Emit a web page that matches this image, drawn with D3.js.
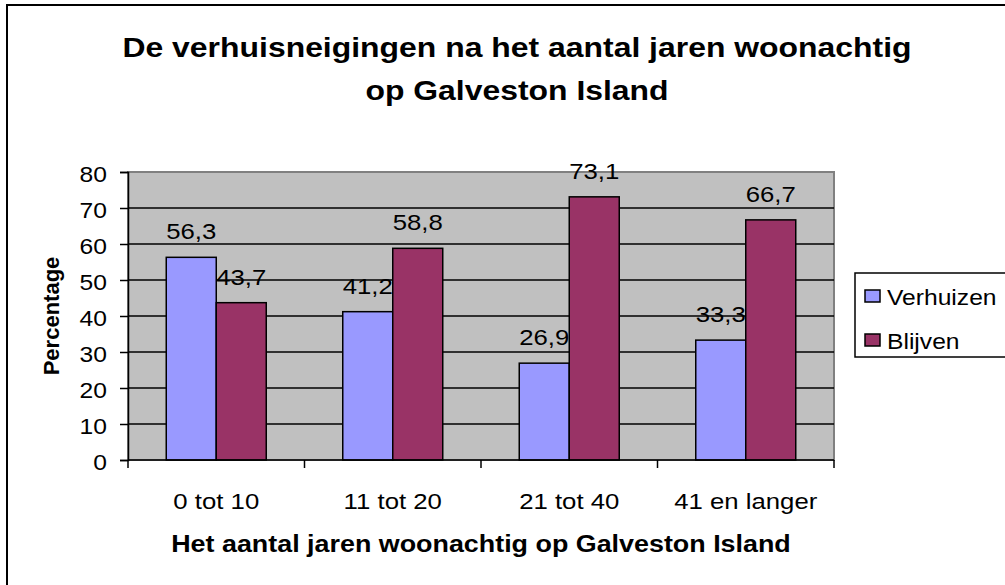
<!DOCTYPE html>
<html>
<head>
<meta charset="utf-8">
<script src="https://cdn.jsdelivr.net/npm/d3@7"></script>
<style>
  body { margin: 0; background: #fff; }
  svg { display: block; font-family: Arial, "Liberation Sans", sans-serif; }
</style>
</head>
<body>
<script>
'use strict';
// gegevens
const categorieen = ['0 tot 10', '11 tot 20', '21 tot 40', '41 en langer'];
const reeksen = ['Verhuizen', 'Blijven'];
const verhuizen = [56.3, 41.2, 26.9, 33.3];
const blijven = [43.7, 58.8, 73.1, 66.7];
const yTicks = [0, 10, 20, 30, 40, 50, 60, 70, 80];
const kleuren = ['#9999FF', '#993366'];

const titelRegels = ['De verhuisneigingen na het aantal jaren woonachtig', 'op Galveston Island'];
const xTitel = 'Het aantal jaren woonachtig op Galveston Island';
const yTitel = 'Percentage';

const W = 1005, H = 585;
const sx = 1.12; // tekst is in het origineel iets breed getrokken
const plot = { left: 128, right: 834, top: 172, bottom: 460 };

const svg = d3.select('body').append('svg')
  .attr('width', W)
  .attr('height', H);

// tekst met horizontale rek
function tekst(parent, x, y, txt, size, anchor, bold) {
  return parent.append('text')
    .attr('transform', `translate(${x},${y}) scale(${sx},1)`)
    .attr('text-anchor', anchor)
    .attr('font-size', size)
    .attr('font-weight', bold ? 'bold' : 'normal')
    .attr('fill', '#000')
    .text(txt);
}

// buitenrand
svg.append('rect')
  .attr('x', 7).attr('y', 5)
  .attr('width', W + 10).attr('height', H + 10)
  .attr('fill', '#fff')
  .attr('stroke', '#000')
  .attr('stroke-width', 2);

const y = d3.scaleLinear()
  .domain([0, 80])
  .range([plot.bottom, plot.top]);

const x0 = d3.scaleBand()
  .domain(categorieen)
  .range([plot.left, plot.right])
  .padding(0);

const x1 = d3.scaleBand()
  .domain(reeksen)
  .range([0, x0.bandwidth()])
  .paddingInner(0)
  .paddingOuter(0.765);

// plotgebied
svg.append('rect')
  .attr('x', plot.left).attr('y', plot.top)
  .attr('width', plot.right - plot.left)
  .attr('height', plot.bottom - plot.top)
  .attr('fill', '#C0C0C0')
  .attr('stroke', '#808080')
  .attr('stroke-width', 2);

// rasterlijnen
svg.selectAll('.raster')
  .data(yTicks.filter(d => d > 0 && d < 80))
  .enter().append('line')
  .attr('class', 'raster')
  .attr('x1', plot.left).attr('x2', plot.right)
  .attr('y1', d => y(d)).attr('y2', d => y(d))
  .attr('stroke', '#000')
  .attr('stroke-width', 1.5);

// staven
const data = categorieen.map((c, i) => ({ cat: c, waarden: [verhuizen[i], blijven[i]] }));

const groep = svg.selectAll('.groep')
  .data(data)
  .enter().append('g')
  .attr('class', 'groep')
  .attr('transform', d => `translate(${x0(d.cat)},0)`);

groep.selectAll('rect')
  .data(d => d.waarden.map((v, j) => ({ reeks: reeksen[j], v: v, j: j })))
  .enter().append('rect')
  .attr('x', d => x1(d.reeks))
  .attr('y', d => y(d.v))
  .attr('width', x1.bandwidth())
  .attr('height', d => y(0) - y(d.v))
  .attr('fill', d => kleuren[d.j])
  .attr('stroke', '#000')
  .attr('stroke-width', 1.5);

// waardelabels
groep.each(function(d) {
  const g = d3.select(this);
  d.waarden.forEach((v, j) => {
    tekst(g, x1(reeksen[j]) + x1.bandwidth() / 2, y(v) - 18, d3.format('.1f')(v).replace('.', ','), 23, 'middle', false);
  });
});

// assen
const yAs = d3.axisLeft(y).tickValues(yTicks).tickSize(8).tickFormat('');
svg.append('g')
  .attr('transform', `translate(${plot.left},0)`)
  .call(yAs)
  .call(g => g.select('.domain').attr('stroke', '#000').attr('stroke-width', 1.5))
  .call(g => g.selectAll('.tick line').attr('stroke', '#000').attr('stroke-width', 1.5));

yTicks.forEach(t => {
  tekst(svg, 107, y(t) + 10, t, 22, 'end', false);
});

svg.append('line')
  .attr('x1', plot.left).attr('x2', plot.right)
  .attr('y1', plot.bottom).attr('y2', plot.bottom)
  .attr('stroke', '#000').attr('stroke-width', 1.5);

const grenzen = categorieen.map(c => x0(c)).concat([plot.right]);
svg.selectAll('.xtick')
  .data(grenzen)
  .enter().append('line')
  .attr('class', 'xtick')
  .attr('x1', d => d).attr('x2', d => d)
  .attr('y1', plot.bottom).attr('y2', plot.bottom + 8)
  .attr('stroke', '#000').attr('stroke-width', 1.5);

categorieen.forEach(c => {
  tekst(svg, x0(c) + x0.bandwidth() / 2, 509, c, 23, 'middle', false);
});

// titels
tekst(svg, 517, 57, titelRegels[0], 28.5, 'middle', true);
tekst(svg, 517, 100, titelRegels[1], 28.5, 'middle', true);
tekst(svg, (plot.left + plot.right) / 2, 552, xTitel, 24, 'middle', true);

svg.append('text')
  .attr('transform', `translate(59,${(plot.top + plot.bottom) / 2}) rotate(-90)`)
  .attr('text-anchor', 'middle')
  .attr('font-size', 22)
  .attr('font-weight', 'bold')
  .text(yTitel);

// legenda
const legenda = svg.append('g');
legenda.append('rect')
  .attr('x', 855).attr('y', 273)
  .attr('width', 200).attr('height', 84)
  .attr('fill', '#fff')
  .attr('stroke', '#000')
  .attr('stroke-width', 1.5);

reeksen.forEach((r, i) => {
  const yy = 296 + i * 44;
  legenda.append('rect')
    .attr('x', 865).attr('y', yy - 6)
    .attr('width', 15).attr('height', 12)
    .attr('fill', kleuren[i])
    .attr('stroke', '#000')
    .attr('stroke-width', 1.5);
  tekst(legenda, 887, yy + 9, r, 22, 'start', false);
});
</script>
</body>
</html>
